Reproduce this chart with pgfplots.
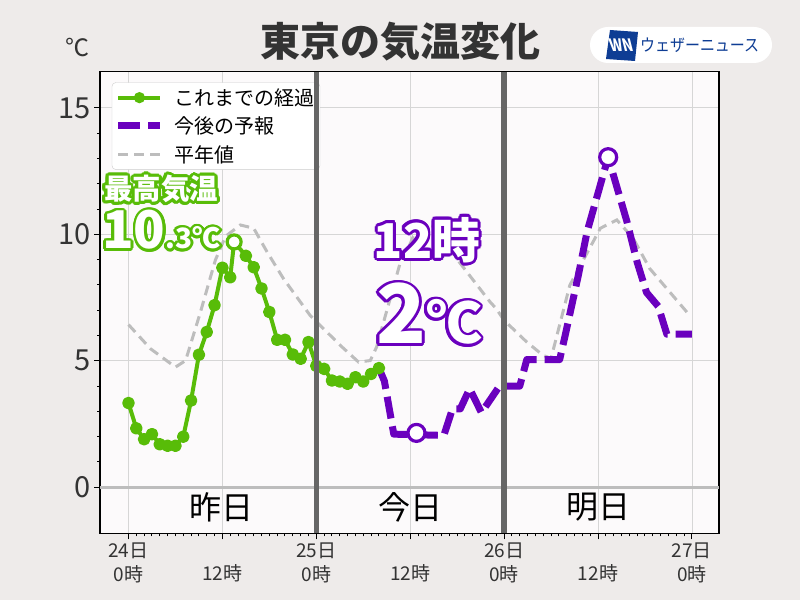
\documentclass[border=0pt]{standalone}
\usepackage{fontspec}
\setmainfont{Noto Sans CJK JP}
\usepackage{pgfplots}
\pgfplotsset{compat=1.18}

\definecolor{pagebg}{HTML}{EEEBEA}
\definecolor{plotbg}{HTML}{FCFAFB}
\definecolor{obs}{HTML}{58BC08}
\definecolor{fcst}{HTML}{6A00BE}
\definecolor{normc}{HTML}{BDBDBD}
\definecolor{dayc}{HTML}{666666}
\definecolor{gridc}{HTML}{D6D6D6}
\definecolor{txt}{HTML}{333333}
\definecolor{logob}{HTML}{0E3D94}

% outlined text: coordinate, anchor, outline colour, font, text
\newcommand{\otext}[5]{%
  \foreach \a in {0,20,...,340}{%
    \node[anchor=#2, text=#3, font=#4, inner sep=0pt, shift={(\a:2.8pt)}] at (#1) {#5};}
  \node[anchor=#2, text=white, font=#4, inner sep=0pt] at (#1) {#5};}

\begin{document}
\begin{tikzpicture}[x=1pt,y=1pt]
\path[use as bounding box, fill=pagebg] (0,0) rectangle (800,600);

\begin{axis}[
  at={(100pt,66.7pt)}, anchor=south west,
  width=619pt, height=461.6pt, scale only axis,
  xmin=-3.64, xmax=75.46, ymin=-1.82, ymax=16.43,
  axis background/.style={fill=plotbg},
  axis line style={black, line width=1.3pt},
  tick align=outside, xtick pos=left, ytick pos=left,
  major tick length=6pt, minor tick length=3pt,
  tick style={black, line width=1pt},
  xtick={0,12,...,72},
  xticklabels={{24日\\0時},{\phantom{0}\\12時},{25日\\0時},{\phantom{0}\\12時},{26日\\0時},{\phantom{0}\\12時},{27日\\0時}},
  minor x tick num=11,
  ytick={0,5,10,15}, minor y tick num=4,
  grid=major, major grid style={gridc, line width=0.8pt},
  /pgf/number format/assume math mode=true,
  xticklabel style={align=center, text=txt, font=\fontsize{19}{24}\selectfont},
  yticklabel style={text=txt, font=\fontsize{29}{29}\selectfont},
  legend style={at={(0.019,0.977)}, anchor=north west, draw=gray!40, fill=white,
    rounded corners=4pt, font=\fontsize{20}{23}\selectfont, row sep=6pt,
    inner xsep=3pt, inner ysep=4pt,
    /tikz/every odd column/.append style={column sep=9pt}},
  legend cell align=left,
  legend image code/.code={\draw[mark repeat=2,mark phase=2,#1] plot coordinates {(0pt,0pt) (21pt,0pt) (42pt,0pt)};},
]
\addlegendimage{obs, line width=4pt, mark=*, mark size=3.5pt, mark options={solid, draw=none, fill=obs}}
\addlegendentry{これまでの経過}
\addlegendimage{fcst, line width=7pt, dash pattern=on 22pt off 8pt, line cap=butt}
\addlegendentry{今後の予報}
\addlegendimage{normc, line width=3pt, dash pattern=on 10pt off 6pt}
\addlegendentry{平年値}

% zero line
\addplot[forget plot, normc, line width=2.5pt] coordinates {(-3.64,0) (75.46,0)};

% normal values
\addplot[forget plot, normc, line width=3pt, dash pattern=on 10pt off 6pt] coordinates {
  (0,6.43) (2.8,5.48) (6,4.75) (7.3,5.01) (9.2,6.93) (11.1,8.98) (12.4,9.92)
  (14.3,10.37) (16,10.24) (17.7,9.31) (19.8,8.25) (23.2,6.8) (24.5,6.4)
  (27.1,5.6) (29.4,4.95) (30.9,5.01) (31.3,5.28) (31.7,5.54) (34.7,8.85)
  (35.1,8.98) (36.4,9.92) (38.3,10.37) (40,10.24) (41.9,9.05) (46.2,7.33)
  (47,7.06) (48,6.6) (50.9,5.74) (53,5.21) (54,5.1) (56.4,7.99) (60.3,10.24)
  (62.4,10.57) (64.5,9.84) (66.6,8.65) (71.7,6.8)
};

% observed
\addplot[forget plot, obs, line width=4pt, line join=round, mark=*, mark size=4.3pt,
  mark options={solid, draw=none, fill=obs}] coordinates {
  (0,3.33) (1,2.33) (2,1.9) (3,2.1) (4,1.7) (5,1.64) (6,1.64) (7,2.0) (8,3.43)
  (9,5.24) (10,6.14) (11,7.2) (12,8.68) (13,8.3) (13.5,9.7) (15,9.15) (16,8.7)
  (17,7.86) (18,6.93) (19,5.83) (20,5.83) (21,5.25) (22,5.08) (23,5.74) (24,4.8)
  (25,4.68) (26,4.22) (27,4.18) (28,4.09) (29,4.35) (30,4.18) (31,4.48) (32,4.71)
};

% forecast
\addplot[forget plot, fcst, line width=7pt, dash pattern=on 22pt off 8pt, line cap=butt, line join=round] coordinates {
  (32,4.71) (32.7,4.2) (33.9,2.1) (40.3,2.05) (41.4,3.1) (42.4,3.1) (43.6,3.9)
  (45.1,2.95) (47.3,3.95) (48,4.0) (50,4.0) (50.9,5.05) (55.1,5.05) (55.8,6.0)
  (57.5,8.4) (58.6,10.1) (61.3,13.05) (63.7,10.5) (65,8.9) (66.2,7.7)
  (67.7,7.15) (68.8,6.05) (72,6.05)
};

% highlighted points
\addplot[forget plot, only marks, line width=3.2pt, mark=*, mark size=7pt,
  mark options={solid, fill=white, draw=obs, line width=3.2pt}]
  coordinates {(13.5,9.7)};
\addplot[forget plot, only marks, line width=3.2pt, mark=*, mark size=8.5pt,
  mark options={solid, fill=white, draw=fcst, line width=3.2pt}]
  coordinates {(36.8,2.15) (61.3,13.05)};
\end{axis}

% day separators, above the legend
\begin{axis}[
  at={(100pt,66.7pt)}, anchor=south west,
  width=619pt, height=461.6pt, scale only axis,
  xmin=-3.64, xmax=75.46, ymin=-1.82, ymax=16.43,
  hide axis,
]
\addplot[dayc, line width=5.5pt] coordinates {(24,-1.82) (24,16.43)};
\addplot[dayc, line width=5.5pt] coordinates {(48,-1.82) (48,16.43)};
\end{axis}

% day names
\node[font=\fontsize{32}{32}\selectfont, text=black] at (221,93) {昨日};
\node[font=\fontsize{32}{32}\selectfont, text=black] at (410,93) {今日};
\node[font=\fontsize{32}{32}\selectfont, text=black] at (598,93) {明日};

% title, unit, logo
\node[font=\bfseries\fontsize{40}{40}\selectfont, text=txt] at (400,558) {東京の気温変化};
\node[font=\fontsize{24}{24}\selectfont, text=txt] at (77,552) {℃};
\fill[white, rounded corners=18pt] (590,537) rectangle (772,573);
\fill[logob] (610,570) -- (638,568) -- (635,539) -- (606,541) -- cycle;
\node[text=white, font=\bfseries\fontsize{17}{17}\selectfont, xslant=-0.25, xscale=0.8] at (621,554.5) {WN};
\node[text=logob, font=\fontsize{17}{17}\selectfont, xscale=0.88, anchor=west, inner sep=0pt] at (640,555) {ウェザーニュース};

% annotations
\otext{161,411}{center}{obs}{\bfseries\fontsize{28.5}{28.5}\selectfont}{最高気温}
\otext{102,351}{base west}{obs}{\bfseries}{\fontsize{52}{52}\selectfont 10\fontsize{28}{28}\selectfont .3℃}
\otext{427,360}{center}{fcst}{\bfseries\fontsize{48}{48}\selectfont}{12時}
\otext{376,256}{base west}{fcst}{\bfseries}{\fontsize{82}{82}\selectfont 2\fontsize{56}{56}\selectfont ℃}
\end{tikzpicture}
\end{document}
